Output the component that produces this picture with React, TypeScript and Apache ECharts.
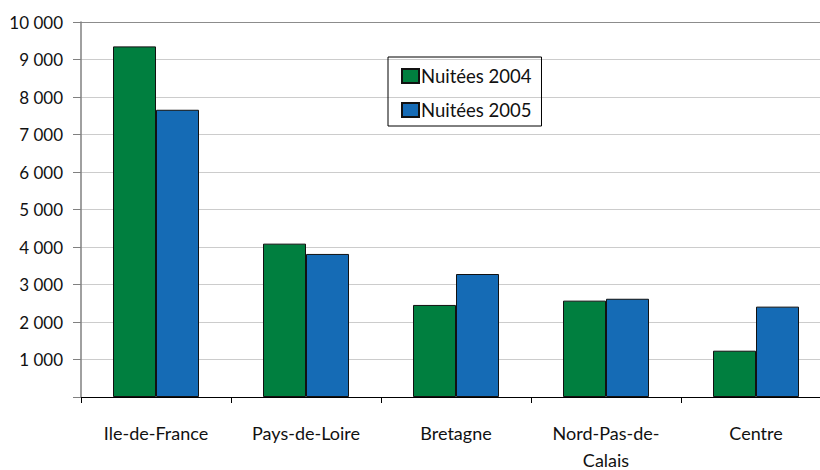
import React, { useEffect, useRef } from "react";
import * as echarts from "echarts";

const categories = ["Ile-de-France", "Pays-de-Loire", "Bretagne", "Nord-Pas-de-Calais", "Centre"];
const nuitees2004 = [9350, 4090, 2455, 2570, 1235];
const nuitees2005 = [7660, 3815, 3280, 2620, 2410];
const seriesNames = ["Nuitées 2004", "Nuitées 2005"];
const yTicks = [0, 1000, 2000, 3000, 4000, 5000, 6000, 7000, 8000, 9000, 10000];

const FONT = "Lato";

export default function App() {
  const ref = useRef<HTMLDivElement>(null);
  useEffect(() => {
    const chart = echarts.init(ref.current!, null, { renderer: "svg" });
    const gridColors = yTicks.map((v) => (v === 10000 ? "#8c8c8c" : "#cccccc"));
    chart.setOption({
      animation: false,
      textStyle: { fontFamily: FONT },
      grid: {
        left: 81,
        top: 22,
        width: 750,
        height: 375,
        containLabel: false,
        outerBoundsMode: "none",
      },
      legend: {
        orient: "vertical",
        left: 388,
        top: 57,
        data: seriesNames,
        borderColor: "#000",
        borderWidth: 1,
        padding: [9, 10, 6, 13],
        itemGap: 14,
        itemWidth: 17,
        itemHeight: 14,
        icon: "rect",
        textStyle: {
          fontFamily: FONT,
          fontSize: 18.5,
          lineHeight: 20,
          color: "#111",
          padding: [0, 0, 0, -3],
        },
      },
      xAxis: {
        type: "category",
        data: categories,
        axisLine: { lineStyle: { color: "#000", width: 1 } },
        axisTick: { show: true, length: 6, lineStyle: { color: "#000" } },
        axisLabel: {
          margin: 22,
          fontSize: 18,
          color: "#111",
          lineHeight: 27,
          interval: 0,
          formatter: (v: string) => (v === "Nord-Pas-de-Calais" ? "Nord-Pas-de-\nCalais" : v),
        },
      },
      yAxis: {
        type: "value",
        min: 0,
        max: 10000,
        interval: 1000,
        axisLine: { show: true, lineStyle: { color: "#808080", width: 1.5 } },
        axisTick: { show: true, length: 8, lineStyle: { color: "#808080" } },
        axisLabel: {
          margin: 18,
          fontSize: 17,
          color: "#111",
          formatter: (v: number) => (v === 0 ? "" : v.toLocaleString("fr-FR").replace(/\s/g, " ")),
        },
        splitLine: { show: true, lineStyle: { color: gridColors, width: 1 } },
      },
      series: [
        {
          name: seriesNames[0],
          type: "bar",
          data: nuitees2004,
          barWidth: 43,
          barGap: "0%",
          itemStyle: { color: "#007f3f", borderColor: "#111", borderWidth: 1 },
        },
        {
          name: seriesNames[1],
          type: "bar",
          data: nuitees2005,
          barWidth: 43,
          barGap: "0%",
          itemStyle: { color: "#156bb5", borderColor: "#111", borderWidth: 1 },
        },
      ],
    });
    return () => chart.dispose();
  }, []);
  return (
    <div
      ref={ref}
      style={{ position: "absolute", left: 0, top: 0, width: 820, height: 470, overflow: "hidden" }}
    />
  );
}
